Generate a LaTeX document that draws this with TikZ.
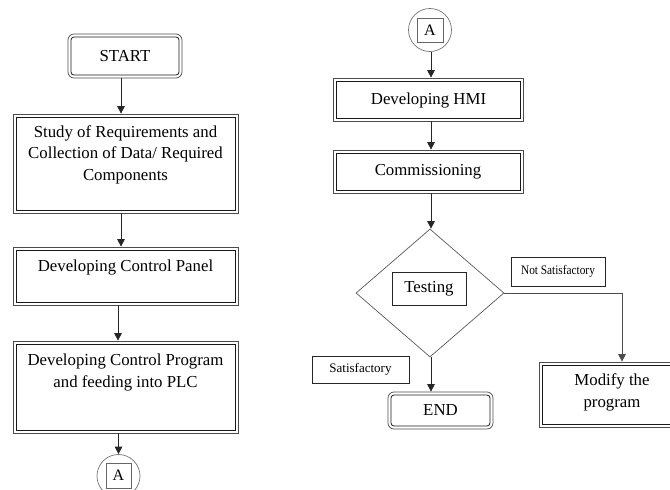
\documentclass[tikz,border=0pt]{standalone}
\usepackage{fontspec}
\setmainfont{Liberation Serif}
\usetikzlibrary{shapes.geometric,arrows.meta}
\begin{document}
\begin{tikzpicture}[x=1pt,y=-1pt,
  ln/.style={draw=black!85, line width=0.8pt},
  arr/.style={ln, -{Triangle[length=7.5pt,width=7.5pt]}},
  % double-ruled box: outer frame plus an inset inner frame
  dbox/.style={draw=black!70, line width=0.7pt, inner sep=0pt, rectangle,
    path picture={\draw[black!90, line width=0.8pt, rounded corners=#1]
      ([shift={(3pt,-3pt)}]path picture bounding box.north west) rectangle
      ([shift={(-3pt,3pt)}]path picture bounding box.south east);}},
  dbox/.default=0pt,
  rbox/.style={dbox=3pt, rounded corners=6pt},
  sbox/.style={draw=black!85, line width=0.7pt, inner sep=0pt, rectangle},
  big/.style={font=\fontsize{16.8}{21.5}\selectfont, align=center, inner sep=0pt},
  small/.style={font=\fontsize{13}{15}\selectfont},
  conn/.style={circle, draw=black!55, line width=0.7pt, minimum size=43pt, inner sep=0pt},
  connsq/.style={draw=black!60, line width=0.7pt, inner sep=0pt,
    font=\fontsize{16}{18}\selectfont}
]
\clip (0,0) rectangle (670,490);
\useasboundingbox (0,0) rectangle (670,490);

% ---------- left column ----------
\node[rbox, minimum width=114pt, minimum height=44pt, big] (start) at (125,56) {START};
\node[dbox, minimum width=225pt, minimum height=99pt] (study) at (125.5,163.5) {};
\node[big] (studyT) at (125.5,154.5)
  {Study of Requirements and\\Collection of Data/ Required\\Components};
\node[dbox, minimum width=225pt, minimum height=58pt] (panel) at (125.5,276) {};
\node[big] (panelT) at (125.5,267) {Developing Control Panel};
\node[dbox, minimum width=225pt, minimum height=92pt] (prog) at (125.5,387) {};
\node[big] (progT) at (125.5,372.5) {Developing Control Program\\and feeding into PLC};
\node[conn] (botA) at (118.5,476) {};
\node[connsq, minimum width=25pt, minimum height=25pt] (botAsq) at (118.5,475.5) {A};

% ---------- right column ----------
\node[conn] (topA) at (430,30) {};
\node[connsq, minimum width=26pt, minimum height=24pt] (topAsq) at (430,30) {A};
\node[dbox, minimum width=190pt, minimum height=43pt] (hmi) at (428,99.5) {};
\node[big] (hmiT) at (428.5,100.5) {Developing HMI};
\node[dbox, minimum width=190pt, minimum height=43pt] (comm) at (428,171.5) {};
\node[big] (commT) at (428,172) {Commissioning};
\node[diamond, draw=black!65, line width=0.7pt, minimum width=148pt, minimum height=128pt,
  inner sep=0pt] (dia) at (430,293) {};
\node[sbox, minimum width=74pt, minimum height=33pt, big] (test) at (429,288.5) {Testing};
\node[sbox, minimum width=94pt, minimum height=29pt, small] (notsat) at (558,271.5)
  {\scalebox{0.87}[1]{Not Satisfactory}};
\node[sbox, minimum width=97pt, minimum height=27pt, small] (sat) at (360.5,369.5)
  {Satisfactory};
\node[rbox, minimum width=105pt, minimum height=37pt, big] (endn) at (440.5,410.5) {END};
\node[dbox, minimum width=146pt, minimum height=65pt] (modify) at (612,394.5) {};
\node[big] (modT) at (612,392.5) {Modify the\\program};

% ---------- connectors ----------
\draw[arr] ([xshift=-4pt]start.south) -- ([xshift=-4pt]start.south |- study.north);
\draw[arr] ([xshift=-4.5pt]study.south) -- ([xshift=-4.5pt]study.south |- panel.north);
\draw[arr] ([xshift=-7.5pt]panel.south) -- ([xshift=-7.5pt]panel.south |- prog.north);
\draw[arr] (botA.north |- prog.south) -- (botA.north);
\draw[arr] ([xshift=1pt]topA.south) -- ([xshift=1pt]topA.south |- hmi.north);
\draw[arr] ([xshift=3pt]hmi.south) -- ([xshift=3pt]hmi.south |- comm.north);
\draw[arr] ([xshift=1pt]dia.north |- comm.south) -- ([xshift=1pt]dia.north);
\draw[arr] ([xshift=1pt]dia.south) -- ([xshift=1pt]dia.south |- endn.north);
\draw[arr, draw=black!70] (dia.east) -| ([xshift=10pt]modify.north);
\end{tikzpicture}
\end{document}
